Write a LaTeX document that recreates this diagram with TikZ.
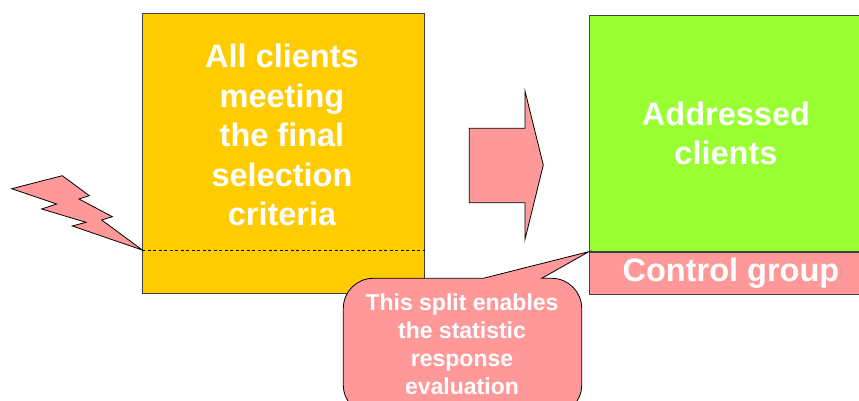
\documentclass[tikz,border=0pt]{standalone}
\usepackage{fontspec}
\setmainfont{Liberation Sans}
\usepackage{xcolor}
\usetikzlibrary{positioning, calc}

\definecolor{poolyellow}{HTML}{FFCC00}
\definecolor{addrgreen}{HTML}{99FF33}
\definecolor{ctrlpink}{HTML}{FF9999}

\begin{document}
\begin{tikzpicture}[
    x=1pt, y=-1pt,
    box/.style={
        rectangle, draw=black!75, line width=0.9pt,
        inner sep=0pt, anchor=north west
    },
    bigtxt/.style={
        text=white, align=center,
        font=\fontsize{32.5}{39.5}\selectfont\bfseries
    },
    smalltxt/.style={
        text=white, align=center,
        font=\fontsize{23}{28}\selectfont\bfseries
    },
    shape line/.style={draw=black, line width=0.8pt, fill=ctrlpink, line join=miter},
    split/.style={black, line width=0.7pt, dash pattern=on 3pt off 2.5pt},
]
\useasboundingbox (0,0) rectangle (859,400);

% Source population on the left
\node[box, fill=poolyellow, minimum width=281.7pt, minimum height=280pt] (pool) at (142.3,13.3) {};
\coordinate (cut) at (142.3,250);
\draw[split] (pool.west |- cut) -- (pool.east |- cut);
\node[bigtxt] (pooltxt) at (282,135) {All clients\\meeting\\the final\\selection\\criteria};

% Target split on the right
\node[box, fill=addrgreen, minimum width=273pt, minimum height=235.7pt] (addr) at (589,15) {};
\node[box, fill=ctrlpink, minimum width=273pt, minimum height=42.6pt] (ctrl) at (addr.south west) {};
\node[bigtxt] (addrtxt) at (addr.center) {Addressed\\clients};
\node[bigtxt] (ctrltxt) at ([xshift=5pt]ctrl.center) {Control group};

% Block arrow between the two
\draw[shape line] (469.3,128.3) -- (525,128.3) -- (525,91) -- (543.3,165)
    -- (525,239.3) -- (525,202.7) -- (469.3,202.7) -- cycle;

% Lightning bolt hitting the cut line
\draw[shape line] (11.7,188.7) -- (62.3,175.7) -- (89.3,195.7) -- (79,199)
    -- (112.3,216.7) -- (101.7,220) -- (pool.west |- cut) -- (72.3,226)
    -- (86,222.3) -- (41.7,209) -- (56.7,204) -- cycle;

% Callout pointing at the split
\draw[shape line] (483.3,278.3) -- (ctrl.north west) -- (541.7,278.3)
    [rounded corners=30pt] -- (581.7,278.3) -- (581.7,415) -- (343.3,415)
    -- (343.3,278.3) [sharp corners] -- cycle;
\node[smalltxt] (note) at (462,344) {This split enables\\the statistic\\response\\evaluation};

\end{tikzpicture}
\end{document}
